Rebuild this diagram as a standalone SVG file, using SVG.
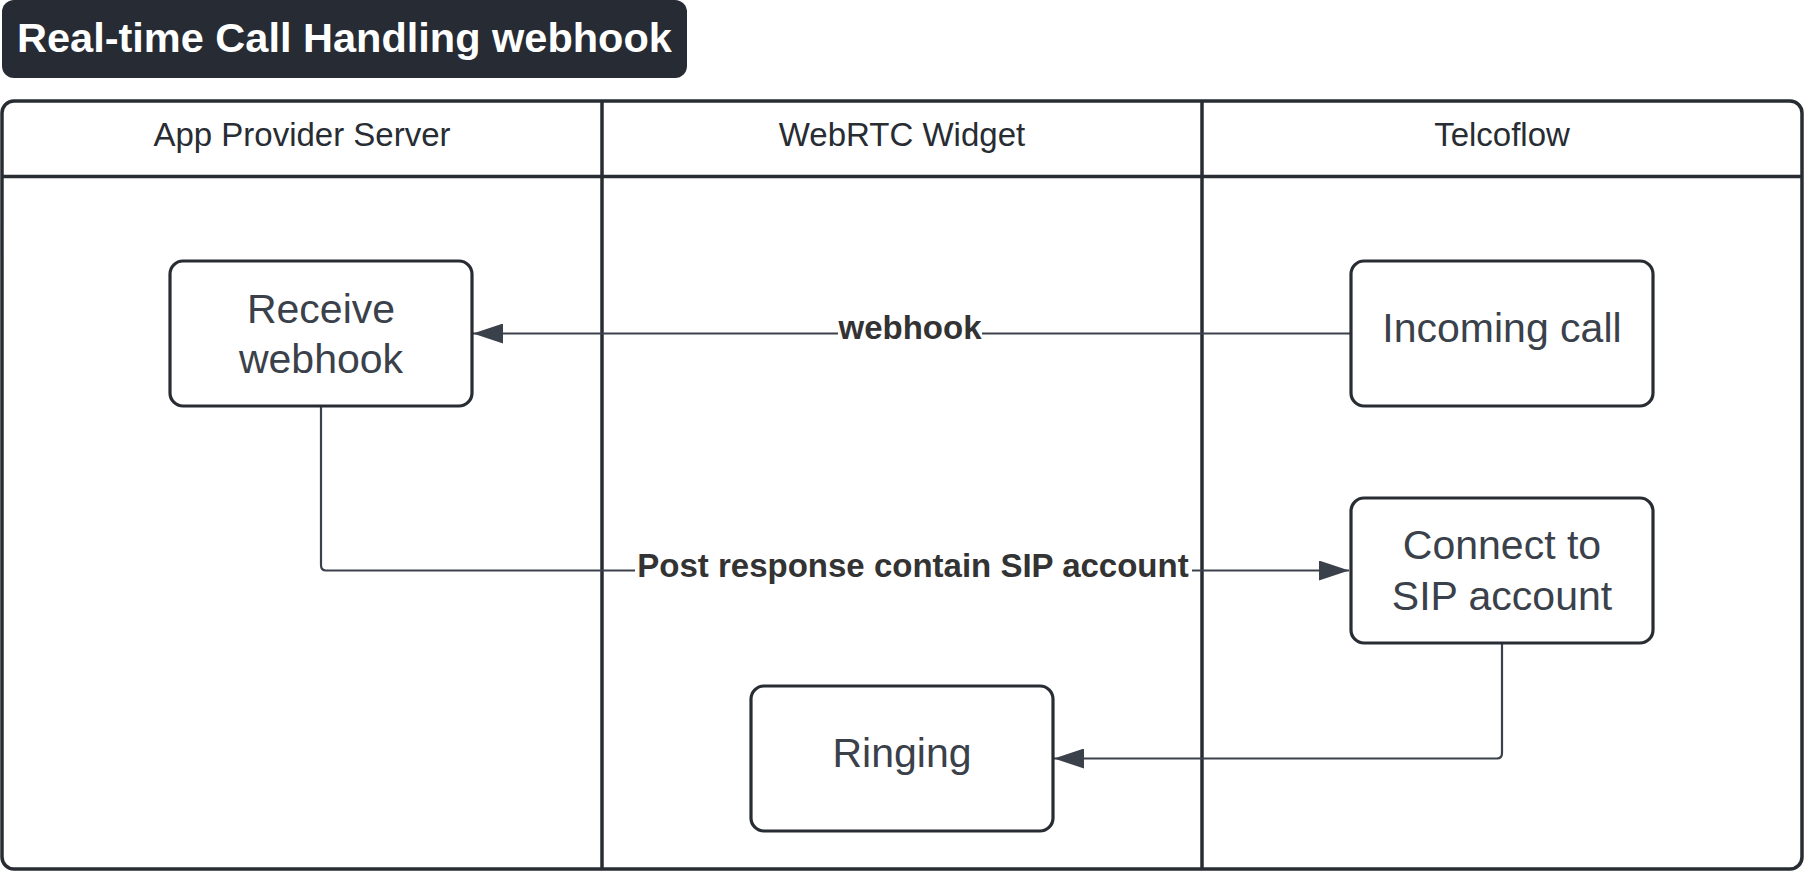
<svg xmlns="http://www.w3.org/2000/svg" width="1804" height="872" viewBox="0 0 1804 872">
<defs>
<style>
.pool{fill:#ffffff;stroke:#282c33;stroke-width:3.5}
.lane{stroke:#282c33;stroke-width:3.5;fill:none}
.hdr{font-family:"Liberation Sans",Arial,sans-serif;font-size:33px;fill:#282c33;text-anchor:middle}
.node rect{fill:#ffffff;stroke:#282c33;stroke-width:3.2}
.node text{font-family:"Liberation Sans",Arial,sans-serif;font-size:41px;fill:#3a414a;text-anchor:middle}
.conn{fill:none;stroke:#3a414a;stroke-width:2.2}
.lbl{font-family:"Liberation Sans",Arial,sans-serif;font-size:33px;font-weight:bold;fill:#333333;text-anchor:middle}
.lblbg{fill:#ffffff}
</style>
<marker id="arr" viewBox="0 0 30 20" refX="30" refY="10" markerWidth="30" markerHeight="20" markerUnits="userSpaceOnUse" orient="auto">
<path d="M0,0 L30,10 L0,20 Z" fill="#3a414a"/>
</marker>
</defs>
<rect width="1804" height="872" fill="#ffffff"/>
<g id="title">
<rect x="2" y="0" width="685" height="78" rx="12" ry="12" fill="#272b33"/>
<text x="17" y="52" font-family="'Liberation Sans',Arial,sans-serif" font-size="41.5" font-weight="bold" fill="#ffffff">Real-time Call Handling webhook</text>
</g>
<g id="pool">
<rect class="pool" x="2" y="101" width="1800" height="768" rx="12" ry="12"/>
<line class="lane" x1="2" y1="176.5" x2="1802" y2="176.5"/>
<line class="lane" x1="602" y1="101" x2="602" y2="869"/>
<line class="lane" x1="1202" y1="101" x2="1202" y2="869"/>
<text class="hdr" x="302" y="146">App Provider Server</text>
<text class="hdr" x="902" y="146">WebRTC Widget</text>
<text class="hdr" x="1502" y="146">Telcoflow</text>
</g>
<g id="connectors">
<line class="conn" x1="1351" y1="333.5" x2="473" y2="333.5" marker-end="url(#arr)"/>
<rect class="lblbg" x="838" y="312" width="144" height="36"/>
<text class="lbl" x="910" y="339">webhook</text>
<path class="conn" d="M321,406 L321,565 Q321,570.5 326,570.5 L1349,570.5" marker-end="url(#arr)"/>
<rect class="lblbg" x="635" y="549" width="557" height="36"/>
<text class="lbl" x="913" y="577">Post response contain SIP account</text>
<path class="conn" d="M1502,643 L1502,753 Q1502,758.5 1497,758.5 L1054,758.5" marker-end="url(#arr)"/>
</g>
<g id="receive-webhook" class="node">
<rect x="170" y="261" width="302" height="145" rx="13" ry="13"/>
<text x="321" y="323">Receive</text>
<text x="321" y="373">webhook</text>
</g>
<g id="incoming-call" class="node">
<rect x="1351" y="261" width="302" height="145" rx="13" ry="13"/>
<text x="1502" y="342">Incoming call</text>
</g>
<g id="connect-sip" class="node">
<rect x="1351" y="498" width="302" height="145" rx="13" ry="13"/>
<text x="1502" y="559">Connect to</text>
<text x="1502" y="610">SIP account</text>
</g>
<g id="ringing" class="node">
<rect x="751" y="686" width="302" height="145" rx="13" ry="13"/>
<text x="902" y="767">Ringing</text>
</g>
</svg>
